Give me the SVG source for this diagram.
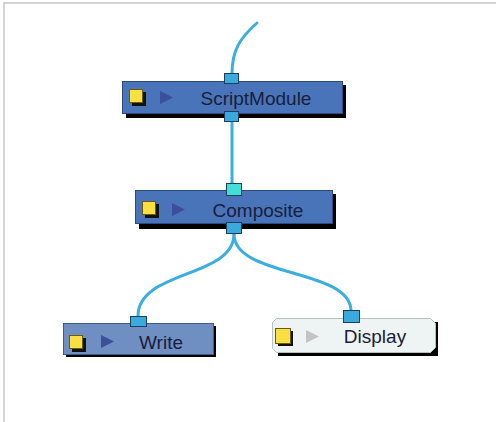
<svg xmlns="http://www.w3.org/2000/svg" width="496" height="422" viewBox="0 0 496 422">
<style>
.frame{fill:none;stroke:#d3d3d3;stroke-width:2}
.wire{fill:none;stroke:#3aaee0;stroke-width:3;stroke-linecap:round}
.shadow{fill:#000}
.body{fill:#4a74ba;stroke:#2d4a80;stroke-width:1}
.bodyw{fill:#6f8fc2;stroke:#3d5a88;stroke-width:1}
.bodyd{fill:#eef4f4;stroke:#b8c0c0;stroke-width:1}
.port{fill:#3aaade;stroke:#1e3e60;stroke-width:1}
.portc{fill:#40e0d8;stroke:#1e3e60;stroke-width:1}
.ysh{fill:#111}
.yel{fill:#f8e040;stroke:#6b5a10;stroke-width:1}
.tri{fill:#3b4f9a}
.trid{fill:#c0c4c4}
.lbl{font-family:"Liberation Sans",Arial,sans-serif;font-size:19px;fill:#17203a;text-anchor:middle}
</style>
<rect x="0" y="0" width="496" height="422" fill="#fff"/>
<path class="frame" d="M4 422 V3 H496"/>
<g id="connectors">
<path class="wire" d="M257 23 C240 38 232 50 232 74"/>
<line class="wire" x1="232" y1="122" x2="232" y2="184"/>
<path class="wire" d="M234 234 C234 278 138 270 138 316"/>
<path class="wire" d="M234 234 C234 278 351 268 351 311"/>
</g>
<g id="ScriptModule">
<rect class="shadow" x="126" y="85" width="220" height="33"/>
<rect class="body" x="122.5" y="81.5" width="220" height="32"/>
<rect class="ysh" x="132" y="92" width="14" height="14"/>
<rect class="yel" x="129.5" y="89.5" width="13" height="13"/>
<path class="tri" d="M160 91 L173 97.5 L160 104 Z"/>
<text class="lbl" x="256" y="105">ScriptModule</text>
<rect class="port" x="224.5" y="73.5" width="14" height="10"/>
<rect class="port" x="224.5" y="111.5" width="14" height="10"/>
</g>
<g id="Composite">
<rect class="shadow" x="139" y="194" width="197" height="35"/>
<rect class="body" x="135.5" y="190.5" width="197" height="33"/>
<rect class="ysh" x="145" y="204" width="14" height="14"/>
<rect class="yel" x="142.5" y="201.5" width="13" height="13"/>
<path class="tri" d="M172 203 L185 209.5 L172 216 Z"/>
<text class="lbl" x="258" y="217">Composite</text>
<rect class="portc" x="226.5" y="183.5" width="15" height="12"/>
<rect class="port" x="226.5" y="222.5" width="15" height="11"/>
</g>
<g id="Write">
<rect class="shadow" x="66" y="326" width="150" height="31"/>
<rect class="bodyw" x="63.5" y="323.5" width="150" height="31"/>
<rect class="ysh" x="72" y="338" width="14" height="14"/>
<rect class="yel" x="69.5" y="335.5" width="13" height="13"/>
<path class="tri" d="M101 335 L114 341.5 L101 348 Z"/>
<text class="lbl" x="161" y="349">Write</text>
<rect class="port" x="130.5" y="316.5" width="16" height="10"/>
</g>
<g id="Display">
<path class="shadow" d="M278 322 H438 V356 H278 Z"/>
<path class="bodyd" d="M276.5 318.5 H430.5 L435.5 323.5 V347.5 L430.5 352.5 H276.5 L272.5 348.5 V322.5 Z"/>
<rect class="ysh" x="278" y="331" width="15" height="15"/>
<rect class="yel" x="275.5" y="328.5" width="15" height="15"/>
<path class="trid" d="M306 330 L319 336.5 L306 343 Z"/>
<text class="lbl" x="375" y="343">Display</text>
<rect class="port" x="343.5" y="310.5" width="16" height="12"/>
</g>
</svg>
